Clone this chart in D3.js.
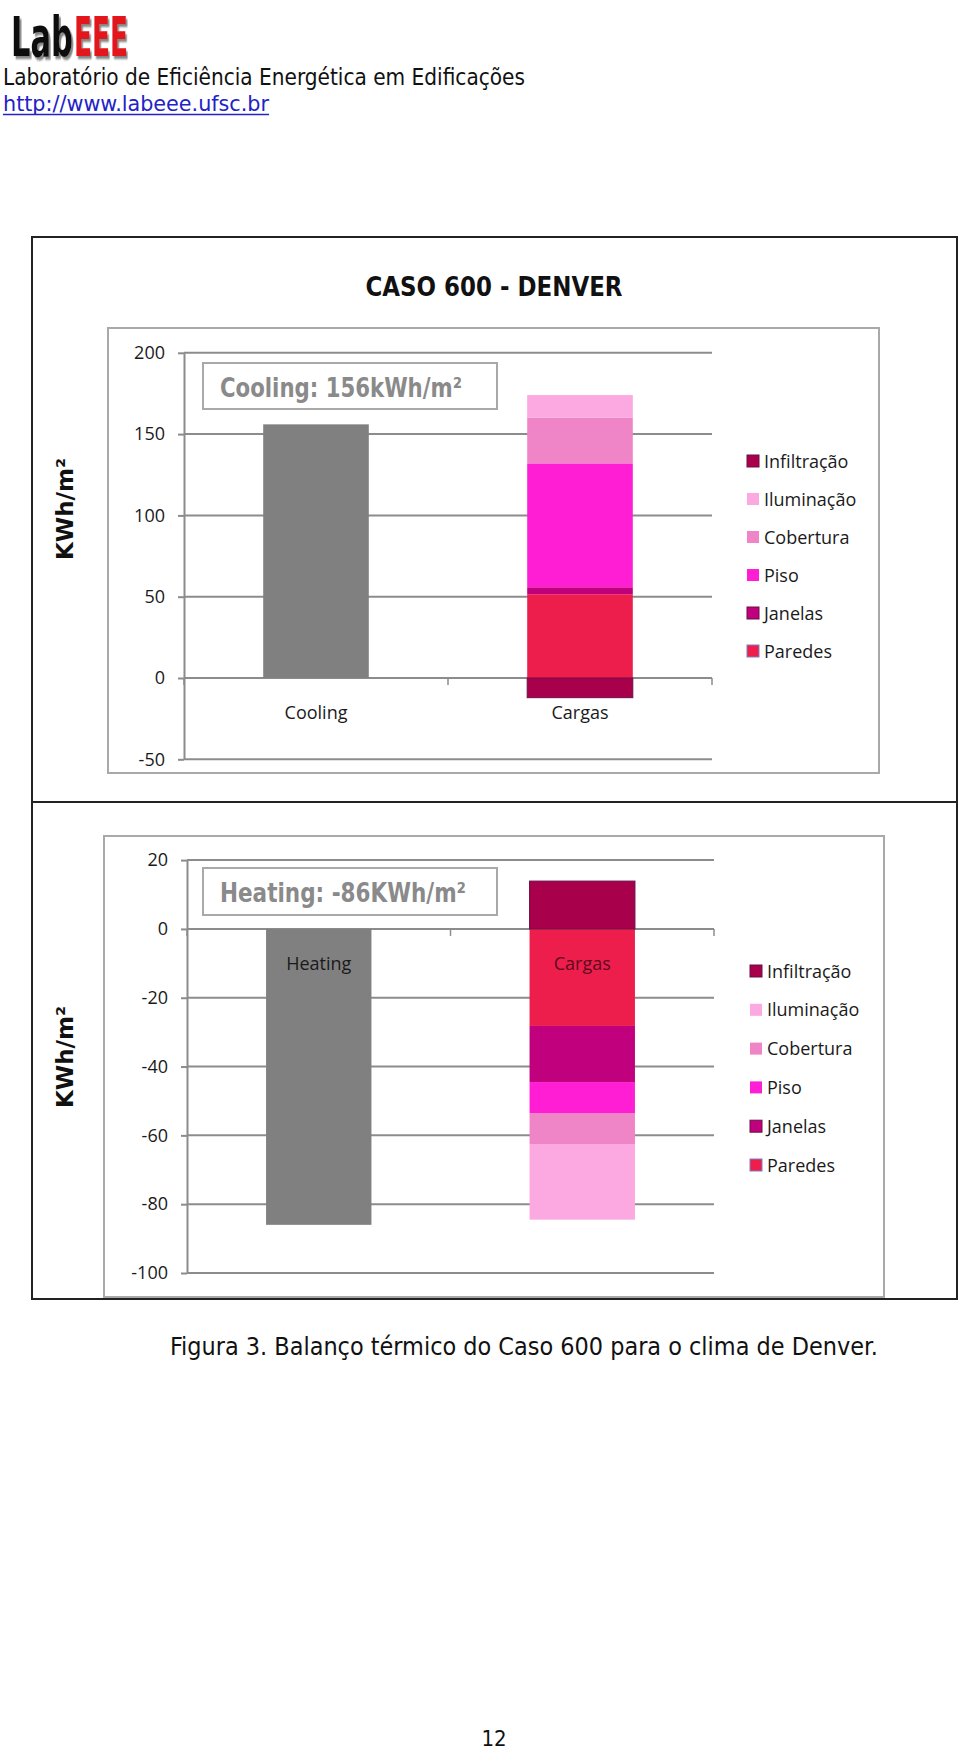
<!DOCTYPE html>
<html>
<head>
<meta charset="utf-8">
<script src="https://cdn.jsdelivr.net/npm/d3@7"></script>
<style>
  html, body { margin: 0; padding: 0; background: #fff; overflow: hidden; }
  svg { display: block; }
</style>
</head>
<body>
<script>
// ---------------- DATA ----------------
const components = ["Paredes", "Janelas", "Piso", "Cobertura", "Iluminação", "Infiltração"];
const legendOrder = ["Infiltração", "Iluminação", "Cobertura", "Piso", "Janelas", "Paredes"];
const componentColors = ["#ee1e4c", "#c0007c", "#ff1ed3", "#ef84c6", "#fba9e0", "#a8004a"];

const coolingCategories = ["Cooling", "Cargas"];
const coolingTotal = 156;
const coolingLoads = [51.5, 4.3, 76.2, 28.2, 13.8, -12.1];
const coolingTicks = [-50, 0, 50, 100, 150, 200];

const heatingCategories = ["Heating", "Cargas"];
const heatingTotal = -86;
const heatingLoads = [-28.2, -16.3, -9.0, -9.0, -22.0, 13.9];
const heatingTicks = [-100, -80, -60, -40, -20, 0, 20];

const chartTitle = "CASO 600 - DENVER";
const yLabel = "KWh/m²";
const caption = "Figura 3. Balanço térmico do Caso 600 para o clima de Denver.";

// ---------------- DRAW ----------------
const W = 960, H = 1751;
const svg = d3.select("body").append("svg").attr("width", W).attr("height", H);
svg.append("rect").attr("width", W).attr("height", H).attr("fill", "#fff");

const defs = svg.append("defs");
defs.append("filter").attr("id", "shadow").attr("x", "-10%").attr("y", "-10%").attr("width", "130%").attr("height", "130%")
  .append("feDropShadow").attr("dx", 3).attr("dy", 3).attr("stdDeviation", 1.2)
  .attr("flood-color", "#777").attr("flood-opacity", 0.9);

const color = d3.scaleOrdinal().domain(["total", ...components]).range(["#808080", ...componentColors]);
const chartFont = "'Open Sans', sans-serif";
const headFont = "'DejaVu Sans Condensed', 'DejaVu Sans', sans-serif";

// Header / logo (horizontally scaled to fit its width)
[["Lab", 11, 62, "#111"], ["EEE", 74, 54, "#e3141b"]].forEach(([t, x, len, fill]) => {
  const tx = svg.append("text").attr("x", 0).attr("y", 0).text(t)
    .attr("font-family", headFont).attr("font-weight", "bold").attr("font-size", 56)
    .attr("fill", fill).attr("filter", "url(#shadow)");
  const natural = tx.node().getComputedTextLength() || len;
  tx.attr("transform", `translate(${x},56) scale(${len / natural},1)`);
});

svg.append("text").attr("x", 3).attr("y", 85)
  .text("Laboratório de Eficiência Energética em Edificações")
  .attr("font-family", headFont).attr("font-size", 23)
  .attr("textLength", 522).attr("lengthAdjust", "spacingAndGlyphs").attr("fill", "#111");
svg.append("text").attr("x", 3).attr("y", 111)
  .text("http://www.labeee.ufsc.br")
  .attr("font-family", headFont).attr("font-size", 21.5)
  .attr("textLength", 266).attr("lengthAdjust", "spacingAndGlyphs").attr("fill", "#2222c8");
svg.append("line").attr("x1", 3).attr("x2", 269).attr("y1", 114.5).attr("y2", 114.5)
  .attr("stroke", "#2222c8").attr("stroke-width", 1.5);

// Outer frame
svg.append("rect").attr("x", 32).attr("y", 237).attr("width", 925).attr("height", 1062)
  .attr("fill", "none").attr("stroke", "#222").attr("stroke-width", 2);
svg.append("line").attr("x1", 32).attr("x2", 957).attr("y1", 802).attr("y2", 802)
  .attr("stroke", "#222").attr("stroke-width", 2);

svg.append("text").attr("x", 494).attr("y", 296).attr("text-anchor", "middle")
  .text(chartTitle).attr("font-family", headFont).attr("font-weight", "bold")
  .attr("font-size", 27).attr("textLength", 257).attr("lengthAdjust", "spacingAndGlyphs")
  .attr("fill", "#111");

function panel(o) {
  const g = svg.append("g");
  g.append("rect").attr("x", o.box[0]).attr("y", o.box[1])
    .attr("width", o.box[2] - o.box[0]).attr("height", o.box[3] - o.box[1])
    .attr("fill", "none").attr("stroke", "#a9a9a9").attr("stroke-width", 2);

  const y = d3.scaleLinear().domain(d3.extent(o.ticks)).range(o.yRange);
  const x = d3.scaleBand().domain(o.cats).range(o.xRange).paddingInner(0.6).paddingOuter(0.3);

  // gridlines
  g.append("g").selectAll("line").data(o.ticks).join("line")
    .attr("x1", o.xRange[0]).attr("x2", o.xRange[1])
    .attr("y1", d => y(d)).attr("y2", d => y(d))
    .attr("stroke", "#8c8c8c").attr("stroke-width", 2);

  // stacked bars
  const rows = o.cats.map((c, i) => {
    const r = { cat: c, total: i === 0 ? o.total : 0 };
    components.forEach((k, j) => r[k] = i === 0 ? 0 : o.loads[j]);
    return r;
  });
  const keys = ["total", ...components];
  const series = d3.stack().keys(keys).offset(d3.stackOffsetDiverging)(rows);
  g.append("g").selectAll("g").data(series).join("g")
    .attr("fill", d => color(d.key))
    .attr("stroke", d => d.key === "Infiltração" ? "#6a1048" : "none")
    .attr("stroke-width", 1)
    .selectAll("rect").data(d => d.filter(s => s[1] !== s[0])).join("rect")
    .attr("x", d => x(d.data.cat))
    .attr("width", x.bandwidth())
    .attr("y", d => y(Math.max(d[0], d[1])))
    .attr("height", d => Math.abs(y(d[0]) - y(d[1])));

  // y axis
  const ax = g.append("g").attr("transform", `translate(${o.xRange[0]},0)`)
    .call(d3.axisLeft(y).tickValues(o.ticks).tickSizeInner(6).tickSizeOuter(0).tickPadding(13).tickFormat(d => String(d)));
  ax.select(".domain").attr("stroke", "#8c8c8c").attr("stroke-width", 2);
  ax.selectAll(".tick line").attr("stroke", "#8c8c8c").attr("stroke-width", 2);
  ax.selectAll(".tick text").attr("font-family", chartFont).attr("font-size", 18).attr("fill", "#1a1a1a");

  // category axis ticks on zero line
  const y0 = y(0);
  const n = o.cats.length;
  const catTicks = d3.range(n + 1).map(i => o.xRange[0] + i * (o.xRange[1] - o.xRange[0]) / n);
  g.append("g").selectAll("line").data(catTicks).join("line")
    .attr("x1", d => d).attr("x2", d => d).attr("y1", y0).attr("y2", y0 + 7)
    .attr("stroke", "#8c8c8c").attr("stroke-width", 1.5);

  // category labels
  g.append("g").selectAll("text").data(o.cats).join("text")
    .attr("x", d => x(d) + x.bandwidth() / 2).attr("y", y0 + 41)
    .attr("text-anchor", "middle").text(d => d)
    .attr("font-family", chartFont).attr("font-size", 18)
    .attr("fill", (d, i) => o.labelColors[i]);

  // annotation box
  g.append("rect").attr("x", o.note[0]).attr("y", o.note[1]).attr("width", o.note[2]).attr("height", o.note[3])
    .attr("fill", "#fff").attr("stroke", "#a9a9a9").attr("stroke-width", 2);
  g.append("text").attr("x", o.note[0] + 17).attr("y", o.note[1] + 34)
    .text(o.noteText).attr("font-family", headFont).attr("font-weight", "bold")
    .attr("font-size", 26).attr("textLength", o.noteLen).attr("lengthAdjust", "spacingAndGlyphs")
    .attr("fill", "#8a8a8a");

  // y label
  g.append("text").attr("transform", `translate(${o.yLabelPos[0]},${o.yLabelPos[1]}) rotate(-90)`)
    .attr("text-anchor", "middle").text(yLabel)
    .attr("font-family", "'DejaVu Sans', sans-serif").attr("font-weight", "bold")
    .attr("font-size", 23).attr("fill", "#111");

  // legend
  const lg = g.append("g").selectAll("g").data(legendOrder).join("g")
    .attr("transform", (d, i) => `translate(${o.legend[0]},${o.legend[1] + i * o.legend[2]})`);
  lg.append("rect").attr("x", 0).attr("y", -6).attr("width", 12).attr("height", 12)
    .attr("fill", d => color(d))
    .attr("stroke", d => d === "Paredes" ? "#7f7fbf" : (d === "Infiltração" || d === "Janelas") ? "#6a1048" : "none")
    .attr("stroke-width", 1);
  lg.append("text").attr("x", 17).attr("y", 6.5).text(d => d)
    .attr("font-family", chartFont).attr("font-size", 18).attr("fill", "#1a1a1a");
}

panel({
  box: [108, 328, 879, 773],
  cats: coolingCategories, total: coolingTotal, loads: coolingLoads, ticks: coolingTicks,
  xRange: [184, 712], yRange: [759.3, 352.8],
  labelColors: ["#1a1a1a", "#1a1a1a"],
  note: [203, 363, 294, 46], noteText: "Cooling: " + coolingTotal + "kWh/m²", noteLen: 242,
  yLabelPos: [73, 509],
  legend: [747, 461, 38]
});

panel({
  box: [104, 836, 884, 1297],
  cats: heatingCategories, total: heatingTotal, loads: heatingLoads, ticks: heatingTicks,
  xRange: [187, 714], yRange: [1273, 860.1],
  labelColors: ["#1a1a1a", "#5c0a1e"],
  note: [203, 868, 294, 47], noteText: "Heating: " + heatingTotal + "KWh/m²", noteLen: 246,
  yLabelPos: [73, 1057],
  legend: [750, 971, 38.8]
});

// caption & page number
svg.append("text").attr("x", 524).attr("y", 1355).attr("text-anchor", "middle").text(caption)
  .attr("font-family", headFont).attr("font-size", 25)
  .attr("textLength", 708).attr("lengthAdjust", "spacingAndGlyphs").attr("fill", "#111");
svg.append("text").attr("x", 494).attr("y", 1746).attr("text-anchor", "middle").text("12")
  .attr("font-family", headFont).attr("font-size", 22).attr("fill", "#111");
</script>
</body>
</html>
